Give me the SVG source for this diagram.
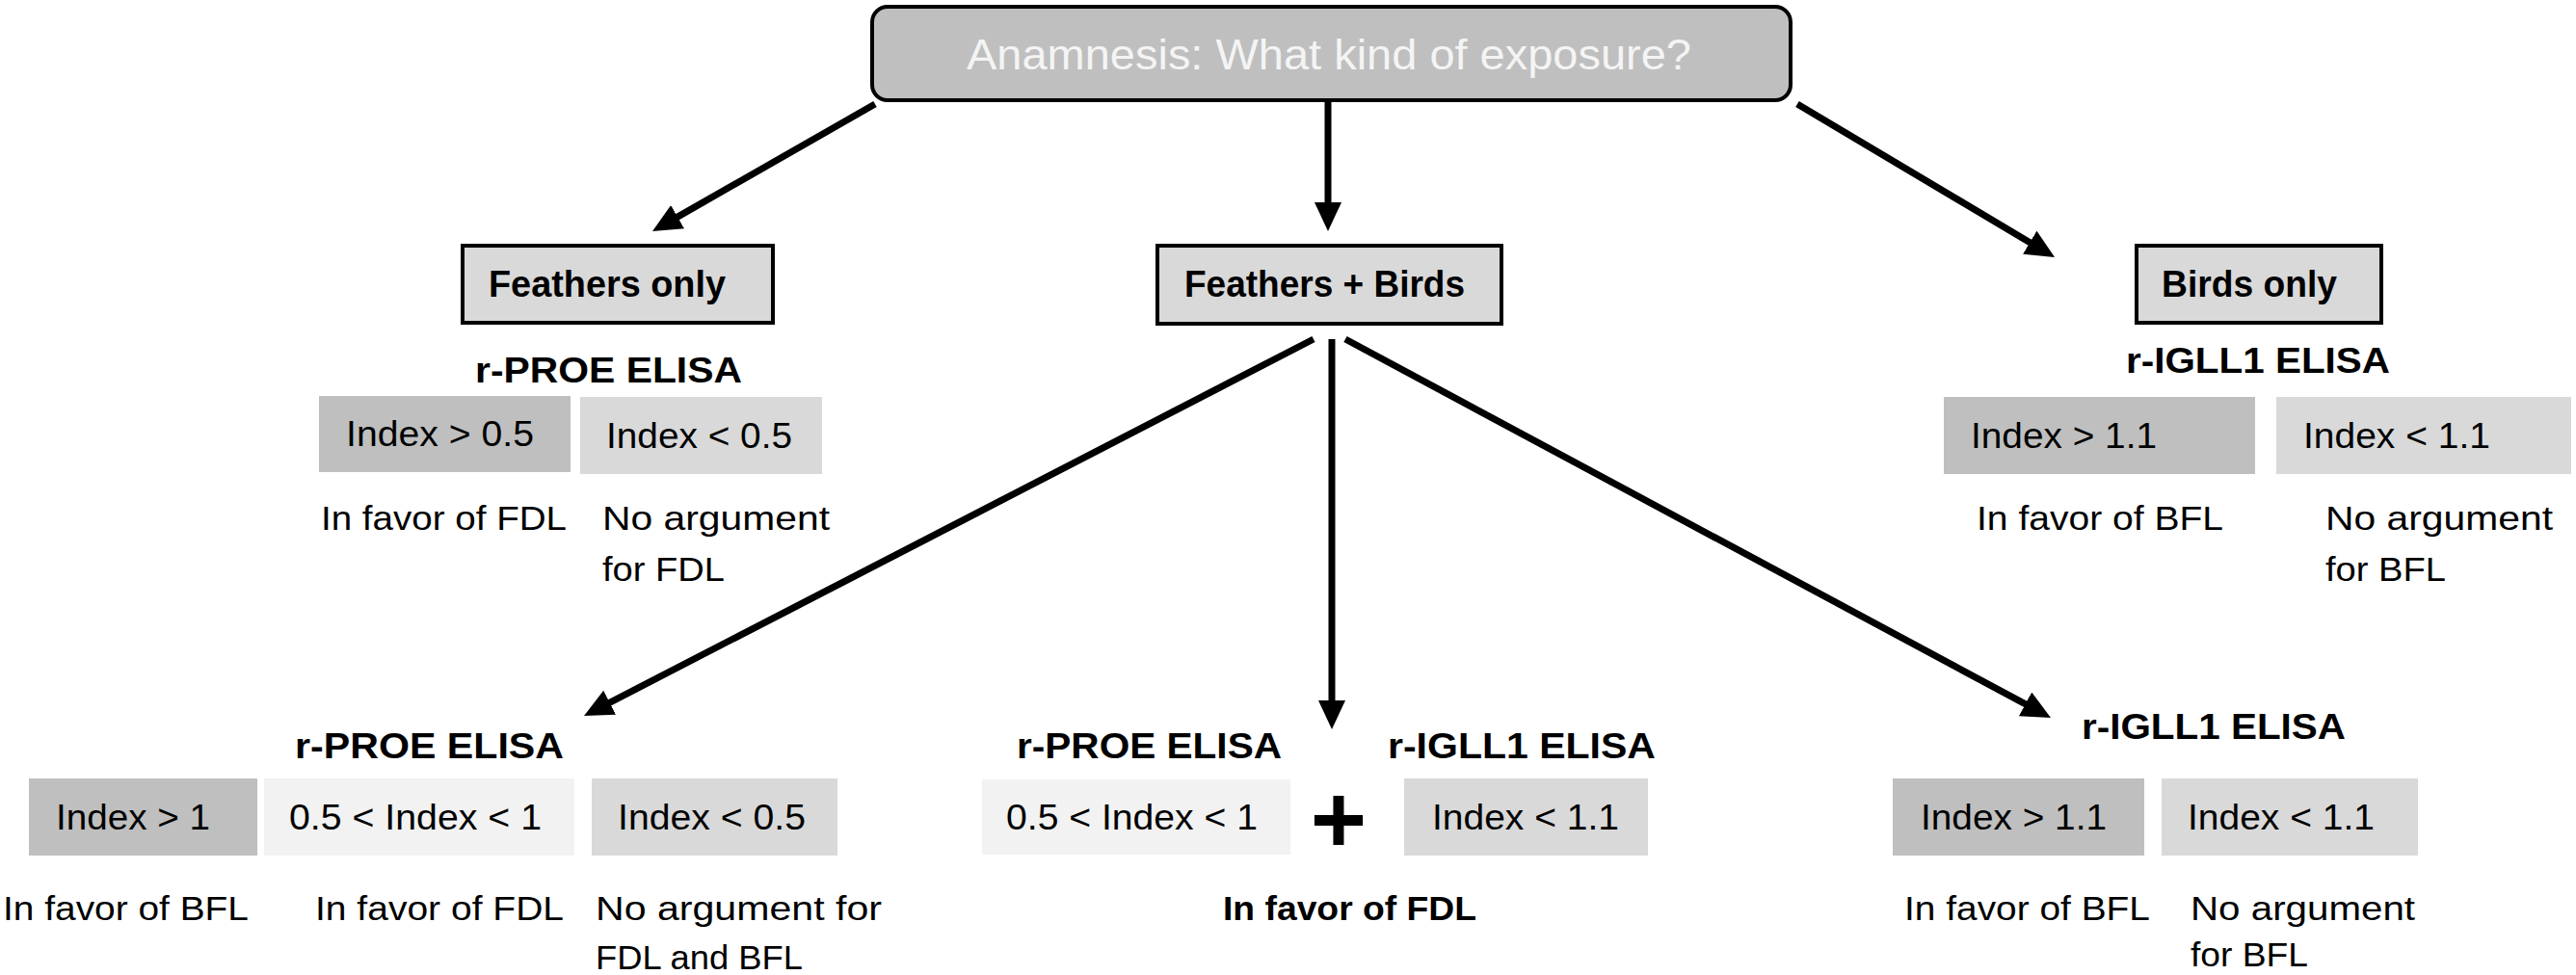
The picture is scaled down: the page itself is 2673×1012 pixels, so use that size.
<svg xmlns="http://www.w3.org/2000/svg" width="2673" height="1012" viewBox="0 0 2673 1012">
<style>
text{font-family:"Liberation Sans",Arial,sans-serif;fill:#000}
.title{font-size:44px;fill:#f4f4f4}
.node{font-size:38px;font-weight:bold}
.elisa{font-size:37px;font-weight:bold}
.idx{font-size:37px}
.res{font-size:35px}
.resb{font-size:35px;font-weight:bold}
.nbox{fill:#d9d9d9;stroke:#000;stroke-width:4}
.dark{fill:#bfbfbf}
.mid{fill:#d9d9d9}
.light{fill:#f2f2f2}
.conn{stroke:#000;stroke-width:7;fill:none;marker-end:url(#ah)}
</style>
<defs>
<marker id="ah" markerUnits="userSpaceOnUse" markerWidth="32" markerHeight="30" refX="4" refY="14" orient="auto">
<path d="M0,0 L30,14 L0,28 z" fill="#000"/>
</marker>
</defs>
<rect width="2673" height="1012" fill="#fff"/>
<g id="connectors">
<line class="conn" x1="908" y1="108" x2="699.6" y2="227.1"/>
<line class="conn" x1="1378" y1="106" x2="1378" y2="214"/>
<line class="conn" x1="1865" y1="108" x2="2109.7" y2="253.7"/>
<line class="conn" x1="1363" y1="352" x2="629.1" y2="731.1"/>
<line class="conn" x1="1382" y1="352" x2="1382" y2="731"/>
<line class="conn" x1="1396" y1="352" x2="2105.1" y2="732.7"/>
</g>
<g id="n-root">
<rect x="905" y="7" width="953" height="97" rx="16" fill="#bfbfbf" stroke="#000" stroke-width="4"/>
<text class="title" x="1003" y="72" textLength="752" lengthAdjust="spacingAndGlyphs">Anamnesis: What kind of exposure?</text>
</g>
<g id="n-feathers">
<rect class="nbox" x="480" y="255" width="322" height="80"/>
<text class="node" x="507" y="308" textLength="246" lengthAdjust="spacingAndGlyphs">Feathers only</text>
</g>
<g id="n-both">
<rect class="nbox" x="1201" y="255" width="357" height="81"/>
<text class="node" x="1229" y="308" textLength="291" lengthAdjust="spacingAndGlyphs">Feathers + Birds</text>
</g>
<g id="n-birds">
<rect class="nbox" x="2217" y="255" width="254" height="80"/>
<text class="node" x="2243" y="308" textLength="182" lengthAdjust="spacingAndGlyphs">Birds only</text>
</g>
<g id="n-feathers-test">
<text class="elisa" x="493" y="397" textLength="277" lengthAdjust="spacingAndGlyphs">r-PROE ELISA</text>
<rect class="dark" x="331" y="411" width="261" height="79"/>
<text class="idx" x="359" y="463" textLength="195" lengthAdjust="spacingAndGlyphs">Index &gt; 0.5</text>
<rect class="mid" x="602" y="412" width="251" height="80"/>
<text class="idx" x="629" y="465" textLength="193" lengthAdjust="spacingAndGlyphs">Index &lt; 0.5</text>
<text class="res" x="333" y="550" textLength="255" lengthAdjust="spacingAndGlyphs">In favor of FDL</text>
<text class="res" x="625" y="550" textLength="236" lengthAdjust="spacingAndGlyphs">No argument</text>
<text class="res" x="625" y="603" textLength="127" lengthAdjust="spacingAndGlyphs">for FDL</text>
</g>
<g id="n-birds-test">
<text class="elisa" x="2206" y="387" textLength="274" lengthAdjust="spacingAndGlyphs">r-IGLL1 ELISA</text>
<rect class="dark" x="2017" y="412" width="323" height="80"/>
<text class="idx" x="2045" y="465" textLength="193" lengthAdjust="spacingAndGlyphs">Index &gt; 1.1</text>
<rect class="mid" x="2362" y="412" width="306" height="80"/>
<text class="idx" x="2390" y="465" textLength="194" lengthAdjust="spacingAndGlyphs">Index &lt; 1.1</text>
<text class="res" x="2051" y="550" textLength="256" lengthAdjust="spacingAndGlyphs">In favor of BFL</text>
<text class="res" x="2413" y="550" textLength="236" lengthAdjust="spacingAndGlyphs">No argument</text>
<text class="res" x="2413" y="603" textLength="125" lengthAdjust="spacingAndGlyphs">for BFL</text>
</g>
<g id="n-both-proe">
<text class="elisa" x="306" y="787" textLength="279" lengthAdjust="spacingAndGlyphs">r-PROE ELISA</text>
<rect class="dark" x="30" y="808" width="237" height="80"/>
<text class="idx" x="58" y="861" textLength="160" lengthAdjust="spacingAndGlyphs">Index &gt; 1</text>
<rect class="light" x="274" y="808" width="322" height="80"/>
<text class="idx" x="300" y="861" textLength="262" lengthAdjust="spacingAndGlyphs">0.5 &lt; Index &lt; 1</text>
<rect class="mid" x="614" y="808" width="255" height="80"/>
<text class="idx" x="641" y="861" textLength="195" lengthAdjust="spacingAndGlyphs">Index &lt; 0.5</text>
<text class="res" x="3" y="955" textLength="255" lengthAdjust="spacingAndGlyphs">In favor of BFL</text>
<text class="res" x="327" y="955" textLength="258" lengthAdjust="spacingAndGlyphs">In favor of FDL</text>
<text class="res" x="618" y="955" textLength="297" lengthAdjust="spacingAndGlyphs">No argument for</text>
<text class="res" x="618" y="1006" textLength="215" lengthAdjust="spacingAndGlyphs">FDL and BFL</text>
</g>
<g id="n-both-combined">
<text class="elisa" x="1055" y="787" textLength="275" lengthAdjust="spacingAndGlyphs">r-PROE ELISA</text>
<rect class="light" x="1019" y="809" width="320" height="78"/>
<text class="idx" x="1044" y="861" textLength="261" lengthAdjust="spacingAndGlyphs">0.5 &lt; Index &lt; 1</text>
<text x="1389" y="885" font-size="100" font-weight="bold" text-anchor="middle">+</text>
<text class="elisa" x="1440" y="787" textLength="278" lengthAdjust="spacingAndGlyphs">r-IGLL1 ELISA</text>
<rect class="mid" x="1457" y="808" width="253" height="80"/>
<text class="idx" x="1486" y="861" textLength="194" lengthAdjust="spacingAndGlyphs">Index &lt; 1.1</text>
<text class="resb" x="1269" y="955" textLength="263" lengthAdjust="spacingAndGlyphs">In favor of FDL</text>
</g>
<g id="n-both-igll1">
<text class="elisa" x="2160" y="767" textLength="274" lengthAdjust="spacingAndGlyphs">r-IGLL1 ELISA</text>
<rect class="dark" x="1964" y="808" width="261" height="80"/>
<text class="idx" x="1993" y="861" textLength="193" lengthAdjust="spacingAndGlyphs">Index &gt; 1.1</text>
<rect class="mid" x="2243" y="808" width="266" height="80"/>
<text class="idx" x="2270" y="861" textLength="194" lengthAdjust="spacingAndGlyphs">Index &lt; 1.1</text>
<text class="res" x="1976" y="955" textLength="255" lengthAdjust="spacingAndGlyphs">In favor of BFL</text>
<text class="res" x="2273" y="955" textLength="233" lengthAdjust="spacingAndGlyphs">No argument</text>
<text class="res" x="2273" y="1003" textLength="122" lengthAdjust="spacingAndGlyphs">for BFL</text>
</g>
</svg>
